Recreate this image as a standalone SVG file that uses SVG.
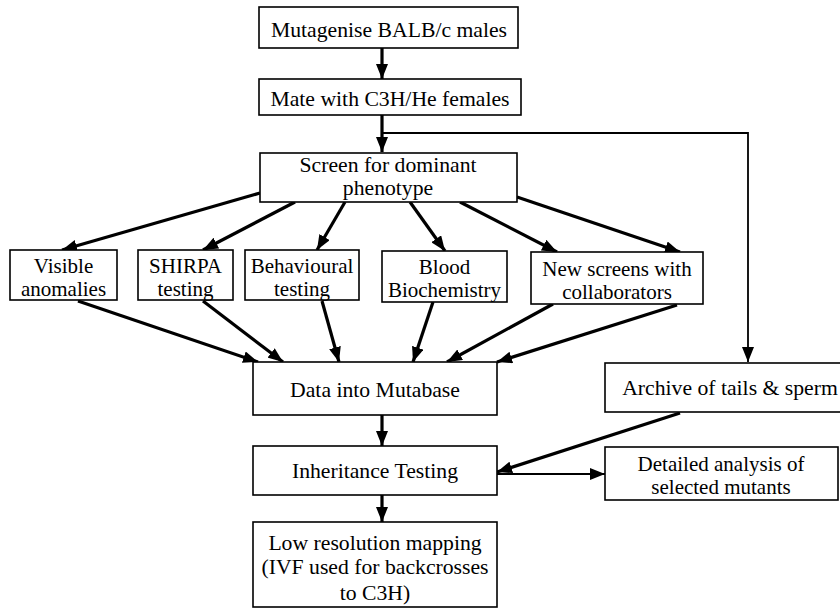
<svg xmlns="http://www.w3.org/2000/svg" width="840" height="611" viewBox="0 0 840 611">
<style>
.box{fill:#fff;stroke:#000;stroke-width:1.6}
text{font-family:"Liberation Serif","Times New Roman",serif;font-size:21.7px;fill:#000;text-anchor:middle}
.two text{font-size:21px}
.thick{stroke:#000;stroke-width:3.2;fill:none;marker-end:url(#ah)}
.thin{stroke:#000;stroke-width:1.8;fill:none}
</style>
<defs>
<marker id="ah" markerUnits="userSpaceOnUse" markerWidth="15" markerHeight="12" refX="15" refY="6" orient="auto">
<path d="M0,0 L15,6 L0,12 Z" fill="#000"/>
</marker>
</defs>
<rect width="840" height="611" fill="#fff"/>
<g id="connectors">
<line class="thick" x1="382" y1="48" x2="382" y2="79"/>
<line class="thick" x1="382" y1="115" x2="382" y2="152"/>
<line class="thick" x1="260" y1="193" x2="62" y2="250"/>
<line class="thick" x1="295" y1="202" x2="203" y2="250"/>
<line class="thick" x1="345" y1="202" x2="317" y2="250"/>
<line class="thick" x1="410" y1="202" x2="445" y2="251"/>
<line class="thick" x1="460" y1="202" x2="557" y2="252"/>
<line class="thick" x1="517" y1="197" x2="680" y2="252"/>
<line class="thick" x1="78" y1="301" x2="258" y2="362"/>
<line class="thick" x1="203" y1="301" x2="283" y2="362"/>
<line class="thick" x1="322" y1="301" x2="339" y2="362"/>
<line class="thick" x1="433" y1="302" x2="413" y2="362"/>
<line class="thick" x1="553" y1="304" x2="447" y2="362"/>
<line class="thick" x1="677" y1="305" x2="497" y2="362"/>
<line class="thick" x1="382" y1="415" x2="382" y2="446"/>
<line class="thick" x1="382" y1="495" x2="382" y2="522"/>
<line class="thick" x1="680" y1="413" x2="497" y2="472"/>
<polyline class="thin" points="382,133 748,133 748,362" marker-end="url(#ah)"/>
<line class="thin" x1="497" y1="474" x2="605" y2="474" marker-end="url(#ah)"/>
</g>
<g id="n-mutagenise"><rect class="box" x="259" y="7" width="259" height="41"/><text x="389" y="37">Mutagenise BALB/c males</text></g>
<g id="n-mate"><rect class="box" x="259" y="79" width="262" height="36"/><text x="390" y="106">Mate with C3H/He females</text></g>
<g id="n-screen"><rect class="box" x="260" y="153" width="257" height="49"/><text x="388" y="172">Screen for dominant</text><text x="388" y="195">phenotype</text></g>
<g id="n-visible" class="two"><rect class="box" x="10" y="250" width="107" height="50"/><text x="63.5" y="273">Visible</text><text x="63.5" y="296">anomalies</text></g>
<g id="n-shirpa" class="two"><rect class="box" x="138" y="250" width="95" height="50"/><text x="185.5" y="273">SHIRPA</text><text x="185.5" y="296">testing</text></g>
<g id="n-behavioural" class="two"><rect class="box" x="245" y="250" width="114" height="50"/><text x="302" y="273">Behavioural</text><text x="302" y="296">testing</text></g>
<g id="n-blood" class="two"><rect class="box" x="382" y="251" width="125" height="51"/><text x="444.5" y="274">Blood</text><text x="444.5" y="297">Biochemistry</text></g>
<g id="n-newscreens" class="two"><rect class="box" x="531" y="252" width="172" height="52"/><text x="617" y="276">New screens with</text><text x="617" y="299">collaborators</text></g>
<g id="n-data"><rect class="box" x="253" y="362" width="244" height="53"/><text x="375" y="397">Data into Mutabase</text></g>
<g id="n-archive"><rect class="box" x="605" y="363" width="245" height="49"/><text x="730" y="395">Archive of tails &amp; sperm</text></g>
<g id="n-inheritance"><rect class="box" x="253" y="446" width="244" height="49"/><text x="375" y="478">Inheritance Testing</text></g>
<g id="n-detailed" class="two"><rect class="box" x="605" y="447" width="233" height="53"/><text x="721" y="471">Detailed analysis of</text><text x="721" y="494">selected mutants</text></g>
<g id="n-lowres"><rect class="box" x="253" y="522" width="244" height="85"/><text x="375" y="550">Low resolution mapping</text><text x="375" y="574">(IVF used for backcrosses</text><text x="375" y="600">to C3H)</text></g>
</svg>
